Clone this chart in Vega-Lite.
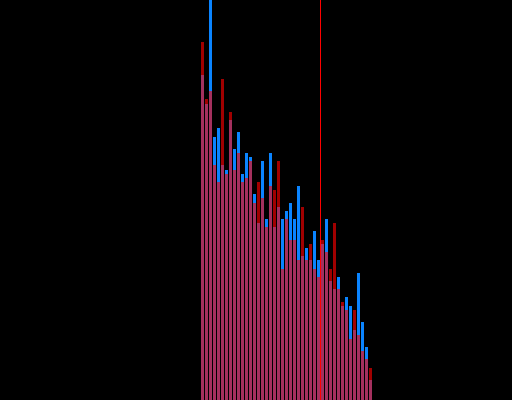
{
  "$schema": "https://vega.github.io/schema/vega-lite/v6.json",
  "width": 512,
  "height": 400,
  "padding": 0,
  "autosize": {"type": "none"},
  "background": "#000000",
  "config": {"view": {"stroke": null}},
  "datasets": {
    "hist": [
      {"bin": 0, "blue": 325, "red": 358},
      {"bin": 1, "blue": 296, "red": 301},
      {"bin": 2, "blue": 410, "red": 309},
      {"bin": 3, "blue": 263, "red": 235},
      {"bin": 4, "blue": 272, "red": 218},
      {"bin": 5, "blue": 235, "red": 321},
      {"bin": 6, "blue": 230, "red": 226},
      {"bin": 7, "blue": 280, "red": 288},
      {"bin": 8, "blue": 251, "red": 230},
      {"bin": 9, "blue": 268, "red": 247},
      {"bin": 10, "blue": 226, "red": 218},
      {"bin": 11, "blue": 247, "red": 222},
      {"bin": 12, "blue": 243, "red": 239},
      {"bin": 13, "blue": 206, "red": 197},
      {"bin": 14, "blue": 177, "red": 218},
      {"bin": 15, "blue": 239, "red": 202},
      {"bin": 16, "blue": 181, "red": 173},
      {"bin": 17, "blue": 247, "red": 214},
      {"bin": 18, "blue": 173, "red": 210},
      {"bin": 19, "blue": 193, "red": 239},
      {"bin": 20, "blue": 181, "red": 131},
      {"bin": 21, "blue": 189, "red": 181},
      {"bin": 22, "blue": 197, "red": 160},
      {"bin": 23, "blue": 181, "red": 160},
      {"bin": 24, "blue": 214, "red": 140},
      {"bin": 25, "blue": 144, "red": 193},
      {"bin": 26, "blue": 152, "red": 140},
      {"bin": 27, "blue": 140, "red": 156},
      {"bin": 28, "blue": 169, "red": 131},
      {"bin": 29, "blue": 140, "red": 123},
      {"bin": 30, "blue": 156, "red": 160},
      {"bin": 31, "blue": 181, "red": 148},
      {"bin": 32, "blue": 119, "red": 131},
      {"bin": 33, "blue": 111, "red": 177},
      {"bin": 34, "blue": 123, "red": 111},
      {"bin": 35, "blue": 94, "red": 98},
      {"bin": 36, "blue": 103, "red": 90},
      {"bin": 37, "blue": 94, "red": 61},
      {"bin": 38, "blue": 70, "red": 90},
      {"bin": 39, "blue": 127, "red": 65},
      {"bin": 40, "blue": 78, "red": 49},
      {"bin": 41, "blue": 53, "red": 41},
      {"bin": 42, "blue": 20, "red": 32}
    ],
    "marker": [{"threshold": 29.5}]
  },
  "layer": [
    {
      "data": {"name": "hist"},
      "mark": {"type": "bar", "size": 3, "color": "#0a84ff", "clip": true},
      "encoding": {
        "x": {"field": "bin", "type": "quantitative", "scale": {"domain": [-50.625, 77.375], "nice": false, "zero": false, "padding": 0}, "axis": null},
        "y": {"field": "blue", "type": "quantitative", "scale": {"domain": [0, 400], "nice": false, "padding": 0}, "axis": null}
      }
    },
    {
      "data": {"name": "hist"},
      "mark": {"type": "bar", "size": 3, "color": "#ff0000", "opacity": 0.63, "clip": true},
      "encoding": {
        "x": {"field": "bin", "type": "quantitative"},
        "y": {"field": "red", "type": "quantitative"}
      }
    },
    {
      "data": {"name": "marker"},
      "mark": {"type": "rule", "color": "#ff0000", "strokeWidth": 1},
      "encoding": {
        "x": {"field": "threshold", "type": "quantitative"}
      }
    }
  ]
}
